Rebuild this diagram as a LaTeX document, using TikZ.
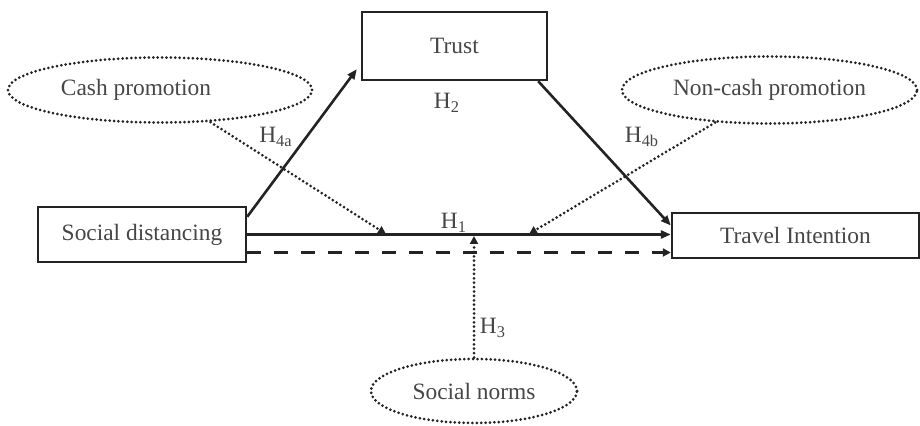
\documentclass[tikz,border=0pt]{standalone}
\usepackage{fontspec}
\setmainfont{Liberation Serif}
\usetikzlibrary{shapes.geometric, arrows.meta, calc}
\definecolor{inkgray}{RGB}{35, 35, 35}
\definecolor{textgray}{RGB}{70, 70, 70}
\tikzset{
    box/.style={
        rectangle, draw=inkgray, line width=1.2pt, fill=white, text=textgray,
        font=\fontsize{11.7}{14}\selectfont, inner sep=0pt
    },
    oval/.style={
        ellipse, draw=inkgray, line width=1.5pt, dash pattern=on 0pt off 2.2pt,
        line cap=round, text=textgray, font=\fontsize{11.7}{14}\selectfont, inner sep=0pt
    },
    arrow/.style={-{Triangle[length=5pt, width=4pt]}, line width=1.3pt, color=inkgray},
    dotarrow/.style={-{Triangle[length=4pt, width=4pt]}, line width=1.5pt,
        dash pattern=on 0pt off 2.2pt, line cap=round, color=inkgray},
    dasharrow/.style={-{Triangle[length=4pt, width=4pt]}, line width=1.4pt,
        dash pattern=on 7pt off 6.5pt, color=inkgray},
    label/.style={font=\fontsize{11.7}{14}\selectfont, text=textgray, inner sep=0pt},
}
\begin{document}
\begin{tikzpicture}[x=0.5pt, y=-0.5pt]
    \useasboundingbox (0,0) rectangle (920,426);
    \node[box, minimum width=104pt, minimum height=27.5pt] (sd) at (142,234.5) {Social distancing};
    \node[box, minimum width=92.5pt, minimum height=34pt] (trust) at (454.5,46) {Trust};
    \node[box, minimum width=123.5pt, minimum height=22.5pt] (ti) at (795.5,235.5) {Travel Intention};
    \node[oval, minimum width=152pt, minimum height=32.5pt] (cash) at (160,90) {Cash promotion\kern24pt};
    \node[oval, minimum width=147.5pt, minimum height=33.5pt] (noncash) at (769.5,90) {Non-cash promotion};
    \node[oval, minimum width=103pt, minimum height=32pt] (norms) at (474,391) {Social norms};
    \coordinate (m4a) at (386,234);
    \coordinate (m4b) at (529,234);
    \coordinate (m3) at (474,236);
    \draw[arrow] ([yshift=-5.5pt]sd.north east) -- ([shift={(-4,-12)}]trust.south west);
    \draw[arrow] ([xshift=-5pt]trust.south east) -- ([yshift=5pt]ti.west);
    \draw[arrow] (sd.east) -- ([yshift=0.5pt]ti.west);
    \draw[dasharrow] ([yshift=-9pt]sd.east) -- ([yshift=-8.5pt]ti.west);
    \draw[dotarrow] (cash) -- (m4a);
    \draw[dotarrow] (noncash) -- (m4b);
    \draw[dotarrow] (norms) -- (m3);
    \node[label] (h1) at (454,223) {H\textsubscript{1}};
    \node[label] (h2) at (447,103) {H\textsubscript{2}};
    \node[label] (h3) at (493,328) {H\textsubscript{3}};
    \node[label] (h4a) at (276,137) {H\textsubscript{4a}};
    \node[label] (h4b) at (642,137) {H\textsubscript{4b}};
\end{tikzpicture}
\end{document}
